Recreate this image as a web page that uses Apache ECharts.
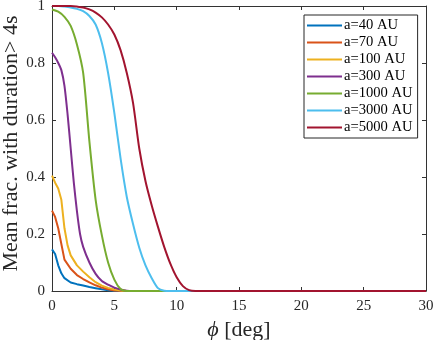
<!DOCTYPE html>
<html>
<head>
<meta charset="utf-8">
<script src="https://cdn.jsdelivr.net/npm/echarts@6/dist/echarts.min.js"></script>
<style>
  html, body { margin: 0; padding: 0; background: #fff; }
  #chart { width: 436px; height: 340px; }
</style>
</head>
<body>
<div id="chart"></div>
<script>
// legend names and MATLAB default colors
const names = ['a=40 AU', 'a=70 AU', 'a=100 AU', 'a=300 AU', 'a=1000 AU', 'a=3000 AU', 'a=5000 AU']
const colors = ['#0072BD', '#D95319', '#EDB120', '#7E2F8E', '#77AC30', '#4DBEEE', '#A2142F']

// [phi, fraction]
const a40 = [[0,0.146],[0.25,0.13],[0.5,0.09],[0.75,0.062],[1,0.045],[1.5,0.03],[2,0.024],[2.5,0.019],[3,0.014],[3.5,0.01],[4,0.006],[4.5,0.003],[5,0.001],[6,0],[30,0]]
const a70 = [[0,0.282],[0.25,0.26],[0.5,0.22],[0.75,0.165],[1,0.11],[1.5,0.078],[2,0.056],[2.5,0.042],[3,0.03],[3.5,0.02],[4,0.012],[4.5,0.006],[5,0.002],[6,0],[30,0]]
const a100 = [[0,0.405],[0.25,0.38],[0.5,0.36],[0.75,0.32],[1,0.22],[1.25,0.16],[1.5,0.125],[2,0.09],[2.5,0.068],[3,0.048],[3.5,0.031],[4,0.019],[4.5,0.011],[5,0.005],[5.5,0.002],[6,0],[30,0]]
const a300 = [[0,0.836],[0.25,0.82],[0.5,0.8],[0.75,0.775],[1,0.72],[1.25,0.62],[1.5,0.5],[1.75,0.38],[2,0.28],[2.25,0.2],[2.5,0.155],[3,0.1],[3.5,0.06],[4,0.035],[4.5,0.022],[5,0.012],[5.5,0.005],[6,0.001],[6.5,0],[7,0],[30,0]]
const a1000 = [[0,0.988],[0.5,0.98],[1,0.962],[1.5,0.93],[2,0.865],[2.5,0.765],[3,0.525],[3.5,0.32],[4,0.195],[4.5,0.1],[5,0.04],[5.5,0.007],[6,0],[6.5,0],[30,0]]
const a3000 = [[0,1],[0.5,1],[1,0.998],[1.5,0.995],[2,0.99],[2.5,0.982],[3,0.965],[3.5,0.935],[4,0.87],[4.5,0.765],[5,0.625],[5.5,0.465],[6,0.33],[6.5,0.235],[7,0.152],[7.5,0.09],[8,0.045],[8.5,0.01],[9,0.001],[9.5,0],[10,0],[30,0]]
const a5000 = [[0,1],[0.5,1],[1,1],[1.5,1],[2,0.998],[2.5,0.995],[3,0.988],[3.5,0.977],[4,0.96],[4.5,0.935],[5,0.9],[5.5,0.845],[6,0.765],[6.5,0.66],[7,0.5],[7.5,0.385],[8,0.3],[8.5,0.225],[9,0.155],[9.5,0.095],[10,0.048],[10.5,0.017],[11,0.003],[11.5,0],[12,0],[30,0]]
const allData = [a40, a70, a100, a300, a1000, a3000, a5000]

const font = 'Liberation Serif'
const axisColor = '#333'

const chart = echarts.init(document.getElementById('chart'))

// bottom/left axes carry labels, top/right axes only close the box
function xAxisDef(pos, show) {
  return {
    type: 'value', position: pos, min: 0, max: 30, interval: 5,
    axisLine: { show: true, onZero: false, lineStyle: { color: axisColor } },
    axisTick: { show: true, inside: true, length: 4, lineStyle: { color: axisColor } },
    axisLabel: { show: show, color: '#262626', fontFamily: font, fontSize: 15, margin: 8 },
    splitLine: { show: false },
    name: show ? '{i|ϕ} [deg]' : '',
    nameLocation: 'middle', nameGap: 20,
    nameTextStyle: { color: '#262626', fontFamily: font, fontSize: 22, rich: { i: { fontStyle: 'italic', fontFamily: font, fontSize: 22, color: '#262626' } } }
  }
}
function yAxisDef(pos, show) {
  return {
    type: 'value', position: pos, min: 0, max: 1, interval: 0.2,
    axisLine: { show: true, onZero: false, lineStyle: { color: axisColor } },
    axisTick: { show: true, inside: true, length: 4, lineStyle: { color: axisColor } },
    axisLabel: { show: show, color: '#262626', fontFamily: font, fontSize: 15, margin: 7,
      formatter: v => String(Math.round(v * 10) / 10) },
    splitLine: { show: false },
    name: show ? 'Mean frac. with duration> 4s' : '',
    nameLocation: 'middle', nameGap: 30, nameMoveOverlap: false,
    nameTextStyle: { color: '#262626', fontFamily: font, fontSize: 22, padding: [0, 0, 0, 10] }
  }
}

chart.setOption({
  animation: false,
  grid: { left: 52, right: 10, top: 6, bottom: 49, containLabel: false, outerBoundsMode: 'none' },
  xAxis: [xAxisDef('bottom', true), xAxisDef('top', false)],
  yAxis: [yAxisDef('left', true), yAxisDef('right', false)],
  legend: {
    orient: 'vertical', left: 304, top: 15,
    padding: [3, 5, 3, 3], itemGap: 2, itemWidth: 35, itemHeight: 2, icon: 'rect',
    borderColor: '#262626', borderWidth: 1, backgroundColor: '#fff',
    textStyle: { fontFamily: font, fontSize: 14.6, color: '#000', lineHeight: 14, padding: [0, 0, 0, -3] },
    data: names
  },
  series: allData.map((d, i) => ({
    name: names[i], type: 'line', data: d,
    symbol: 'none',
    smooth: i >= 3 ? 0.25 : false,
    lineStyle: { width: 2, color: colors[i] },
    itemStyle: { color: colors[i] }
  }))
})
</script>
</body>
</html>
